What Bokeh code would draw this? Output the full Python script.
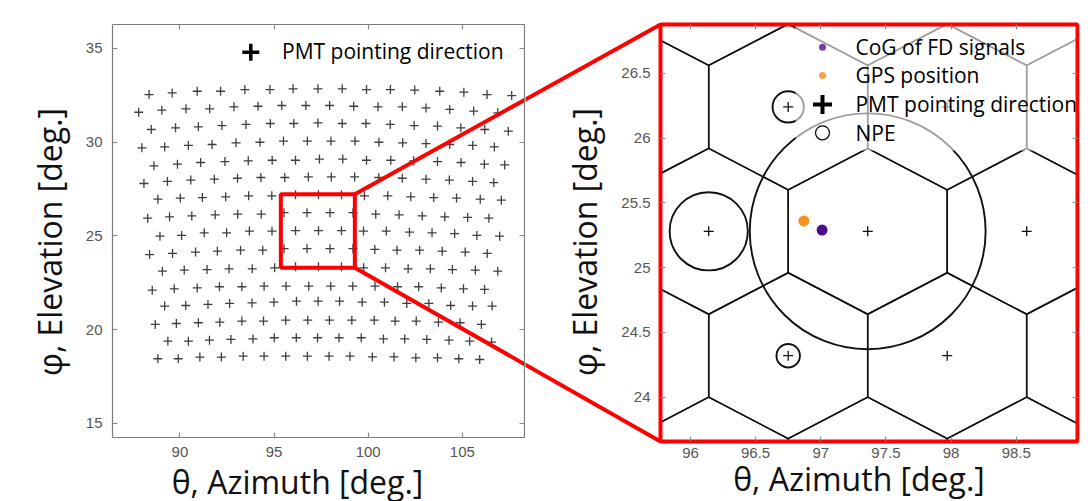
import numpy as np
from bokeh.plotting import figure
from bokeh.models import Range1d, LinearAxis, FixedTicker, NumeralTickFormatter
from bokeh.layouts import row
from bokeh.embed import file_html
from bokeh.resources import INLINE
from bokeh.core.properties import value

# ---------------------------------------------------------------------------
# PMT pointing directions [deg], one list per camera row (top row first)
# ---------------------------------------------------------------------------
pmt_azimuth = [
    [88.36, 89.59, 90.92, 92.16, 93.45, 94.78, 96.01, 97.33, 98.62, 99.91, 101.18, 102.47, 103.80, 105.08, 106.31, 107.62],
    [87.81, 89.04, 90.32, 91.58, 92.87, 94.15, 95.41, 96.69, 97.95, 99.23, 100.52, 101.81, 103.07, 104.33, 105.60, 106.88],
    [88.48, 89.77, 90.98, 92.23, 93.51, 94.80, 96.05, 97.33, 98.62, 99.88, 101.17, 102.44, 103.68, 104.92, 106.19, 107.44],
    [87.98, 89.19, 90.45, 91.71, 92.98, 94.25, 95.50, 96.77, 98.02, 99.30, 100.57, 101.83, 103.07, 104.33, 105.55, 106.70],
    [88.62, 89.87, 91.10, 92.39, 93.63, 94.90, 96.14, 97.41, 98.65, 99.91, 101.20, 102.41, 103.68, 104.93, 106.17, 107.25],
    [88.09, 89.34, 90.58, 91.83, 93.06, 94.30, 95.57, 96.82, 98.04, 99.28, 100.56, 101.81, 103.07, 104.31, 105.54, 106.67],
    [88.83, 90.02, 91.19, 92.43, 93.65, 94.88, 96.14, 97.36, 98.58, 99.80, 101.04, 102.26, 103.48, 104.69, 105.95, 107.07],
    [88.29, 89.45, 90.63, 91.87, 93.07, 94.32, 95.53, 96.75, 97.97, 99.19, 100.40, 101.64, 102.87, 104.07, 105.28, 106.41],
    [88.94, 90.09, 91.29, 92.48, 93.69, 94.89, 96.14, 97.36, 98.58, 99.75, 100.96, 102.19, 103.39, 104.59, 105.77, 106.98],
    [88.39, 89.61, 90.83, 91.99, 93.22, 94.40, 95.53, 96.75, 97.97, 99.19, 100.35, 101.53, 102.73, 103.93, 105.15, 106.32],
    [89.07, 90.23, 91.44, 92.61, 93.84, 95.03, 96.14, 97.36, 98.58, 99.76, 100.92, 102.12, 103.30, 104.47, 105.69, 106.88],
    [88.53, 89.70, 90.92, 92.10, 93.29, 94.47, 95.64, 96.84, 98.01, 99.18, 100.36, 101.56, 102.68, 103.88, 105.06, 106.18],
    [89.19, 90.31, 91.49, 92.64, 93.83, 94.99, 96.19, 97.34, 98.48, 99.68, 100.86, 102.05, 103.22, 104.38, 105.54, 106.58],
    [88.69, 89.81, 90.98, 92.12, 93.29, 94.44, 95.62, 96.79, 97.94, 99.13, 100.32, 101.43, 102.55, 103.73, 104.88, 106.01],
    [89.36, 90.45, 91.57, 92.71, 93.88, 95.01, 96.18, 97.31, 98.45, 99.63, 100.81, 101.94, 103.11, 104.29, 105.39, 106.55],
    [88.83, 89.91, 91.06, 92.20, 93.36, 94.47, 95.62, 96.77, 97.92, 99.03, 100.22, 101.37, 102.53, 103.68, 104.81, 105.92],
]
pmt_elevation = [
    [32.54, 32.63, 32.72, 32.72, 32.81, 32.81, 32.85, 32.85, 32.85, 32.81, 32.81, 32.78, 32.72, 32.67, 32.54, 32.49],
    [31.60, 31.71, 31.78, 31.78, 31.89, 31.92, 31.96, 31.96, 31.96, 31.92, 31.89, 31.89, 31.83, 31.75, 31.66, 31.57],
    [30.68, 30.77, 30.82, 30.89, 30.95, 31.00, 31.00, 31.03, 31.00, 31.00, 30.95, 30.89, 30.86, 30.77, 30.68, 30.59],
    [29.70, 29.75, 29.83, 29.88, 29.97, 30.00, 30.06, 30.06, 30.06, 30.06, 30.00, 29.97, 29.93, 29.88, 29.83, 29.75],
    [28.74, 28.83, 28.92, 28.97, 29.01, 29.04, 29.04, 29.10, 29.10, 29.04, 29.04, 29.01, 28.97, 28.92, 28.83, 28.79],
    [27.80, 27.91, 27.98, 28.03, 28.08, 28.12, 28.12, 28.15, 28.15, 28.15, 28.12, 28.08, 28.03, 27.98, 27.91, 27.85],
    [26.96, 27.02, 27.05, 27.09, 27.14, 27.14, 27.20, 27.20, 27.20, 27.14, 27.14, 27.09, 27.05, 27.02, 26.96, 26.91],
    [25.95, 26.02, 26.07, 26.13, 26.16, 26.16, 26.24, 26.24, 26.24, 26.24, 26.16, 26.13, 26.07, 26.02, 25.99, 25.95],
    [24.99, 25.03, 25.17, 25.17, 25.26, 25.26, 25.28, 25.28, 25.28, 25.26, 25.26, 25.20, 25.17, 25.13, 25.03, 24.99],
    [24.01, 24.07, 24.14, 24.19, 24.24, 24.24, 24.32, 24.32, 24.32, 24.32, 24.28, 24.24, 24.24, 24.19, 24.14, 24.07],
    [23.12, 23.18, 23.21, 23.25, 23.25, 23.30, 23.36, 23.36, 23.36, 23.30, 23.30, 23.25, 23.25, 23.21, 23.18, 23.12],
    [22.11, 22.18, 22.23, 22.29, 22.29, 22.32, 22.32, 22.32, 22.32, 22.32, 22.32, 22.29, 22.29, 22.23, 22.18, 22.15],
    [21.26, 21.29, 21.35, 21.40, 21.43, 21.47, 21.52, 21.52, 21.52, 21.47, 21.47, 21.40, 21.40, 21.29, 21.26, 21.26],
    [20.28, 20.33, 20.37, 20.40, 20.46, 20.46, 20.51, 20.51, 20.51, 20.51, 20.51, 20.46, 20.46, 20.40, 20.37, 20.28],
    [19.39, 19.39, 19.44, 19.48, 19.51, 19.57, 19.57, 19.57, 19.57, 19.57, 19.51, 19.51, 19.48, 19.44, 19.39, 19.34],
    [18.45, 18.45, 18.54, 18.54, 18.59, 18.59, 18.59, 18.59, 18.59, 18.59, 18.55, 18.55, 18.50, 18.50, 18.45, 18.41],
]

# axis limits and ticks
overview_az_lim = [86.42, 108.30]
overview_el_lim = [14.25, 36.28]
overview_az_ticks = [90, 95, 100, 105]
overview_el_ticks = [15, 20, 25, 30, 35]

detail_az_lim = [95.77, 98.97]
detail_el_lim = [23.658, 26.876]
detail_az_ticks = [96, 96.5, 97, 97.5, 98, 98.5]
detail_el_ticks = [24, 24.5, 25, 25.5, 26, 26.5]

# part of the camera that is magnified in the right panel
zoom_box_az = [95.36, 99.29]
zoom_box_el = [23.31, 27.23]

# number of photo-electrons per PMT, drawn as circle radius [deg]
npe_az = [96.14, 97.36, 96.75, 96.75]
npe_el = [25.28, 25.28, 26.24, 24.32]
npe_radius = [0.30, 0.905, 0.12, 0.09]

# centre of gravity of the FD signals and GPS position of the source
cog_az, cog_el = [97.01], [25.29]
gps_az, gps_el = [96.87], [25.36]

legend_labels = ["CoG of FD signals", "GPS position", "PMT pointing direction", "NPE"]
x_title = "θ, Azimuth [deg.]"
y_title = "φ, Elevation [deg.]"

# ---------------------------------------------------------------------------
# page geometry (pixels, y measured from the top of the page)
# ---------------------------------------------------------------------------
PAGE_W, PAGE_H = 1091, 501
LEFT_W = 525
OV_PX, OV_PY = (112, 524), (24, 437)      # overview axes box
DT_PX, DT_PY = (660, 1077), (24, 441)     # detail axes box
# axis titles sit a little off the box centres (pixels, +x right, +y down)
OV_XLABEL_SHIFT, OV_YLABEL_SHIFT = -21, 11
DT_XLABEL_SHIFT, DT_YLABEL_SHIFT = -10, 9

ov_sx = (OV_PX[1] - OV_PX[0]) / (overview_az_lim[1] - overview_az_lim[0])
ov_sy = (OV_PY[1] - OV_PY[0]) / (overview_el_lim[1] - overview_el_lim[0])
dt_sx = (DT_PX[1] - DT_PX[0]) / (detail_az_lim[1] - detail_az_lim[0])
dt_sy = (DT_PY[1] - DT_PY[0]) / (detail_el_lim[1] - detail_el_lim[0])


def overview_to_px(az, el):
    return OV_PX[0] + (az - overview_az_lim[0]) * ov_sx, OV_PY[0] + (overview_el_lim[1] - el) * ov_sy


def px_to_overview(px, py):
    return overview_az_lim[0] + (px - OV_PX[0]) / ov_sx, overview_el_lim[1] - (py - OV_PY[0]) / ov_sy


def detail_to_px(az, el):
    return DT_PX[0] + (az - detail_az_lim[0]) * dt_sx, DT_PY[0] + (detail_el_lim[1] - el) * dt_sy


def px_to_detail(px, py):
    return detail_az_lim[0] + (px - DT_PX[0]) / dt_sx, detail_el_lim[1] - (py - DT_PY[0]) / dt_sy


def overview_frac(fx, fy):
    return (overview_az_lim[0] + fx * (overview_az_lim[1] - overview_az_lim[0]),
            overview_el_lim[1] - fy * (overview_el_lim[1] - overview_el_lim[0]))


def detail_frac(fx, fy):
    return (detail_az_lim[0] + fx * (detail_az_lim[1] - detail_az_lim[0]),
            detail_el_lim[1] - fy * (detail_el_lim[1] - detail_el_lim[0]))


RED = "#ff0000"
TICK_GREY = "#8a8a8a"
LABEL_FONT = "Open Sans"


def style_axis(ax, show_labels=True, line=True, ticks=True):
    ax.major_tick_in = 5
    ax.major_tick_out = 0
    ax.minor_tick_line_color = None
    ax.major_tick_line_color = TICK_GREY if ticks else None
    ax.major_tick_line_width = 1.2
    ax.axis_line_color = "#7a7a7a" if line else None
    ax.axis_line_width = 1.2
    ax.major_label_text_font = "Liberation Sans"
    ax.major_label_text_font_size = "15px"
    ax.major_label_text_color = "#555555" if show_labels else None
    ax.axis_label_text_font = LABEL_FONT
    ax.axis_label_text_font_size = "32px"
    ax.axis_label_text_font_style = "normal"
    ax.axis_label_text_color = "#111111"


def add_box_axes(p, az_ticks, el_ticks, az_lim, el_lim, line):
    """Frame of an axes box with inward ticks on all four sides, no labels."""
    for loc, ticks, fixed, bounds in (("below", az_ticks, el_lim[0], az_lim),
                                      ("above", az_ticks, el_lim[1], az_lim),
                                      ("left", el_ticks, az_lim[0], el_lim),
                                      ("right", el_ticks, az_lim[1], el_lim)):
        ax = LinearAxis(ticker=FixedTicker(ticks=ticks), fixed_location=fixed, bounds=tuple(bounds))
        style_axis(ax, show_labels=False, line=line)
        p.add_layout(ax, loc)


def add_label_axes(p, az_ticks, el_ticks, az_lim, el_lim, dx, dy, x_standoff, fmt=None):
    """Tick labels and titles; bounds are offset so that the titles land where wanted."""
    kw = {} if fmt is None else {"formatter": fmt}
    ax = LinearAxis(ticker=FixedTicker(ticks=az_ticks), axis_label=x_title, fixed_location=el_lim[0],
                    bounds=(az_lim[0] + dx, az_lim[1] + dx), major_label_standoff=x_standoff[0],
                    axis_label_standoff=x_standoff[1], **kw)
    style_axis(ax, line=False, ticks=False)
    p.add_layout(ax, "below")
    ax = LinearAxis(ticker=FixedTicker(ticks=el_ticks), axis_label=y_title, fixed_location=az_lim[0],
                    bounds=(el_lim[0] + dy, el_lim[1] + dy), major_label_standoff=10,
                    axis_label_standoff=12, **kw)
    style_axis(ax, line=False, ticks=False)
    p.add_layout(ax, "left")


all_az = [a for r in pmt_azimuth for a in r]
all_el = [e for r in pmt_elevation for e in r]

# ---------------------------------------------------------------------------
# left: camera overview (the frame fills the whole canvas, axes are pinned)
# ---------------------------------------------------------------------------
p1 = figure(
    width=LEFT_W, height=PAGE_H,
    x_range=Range1d(overview_az_lim[0] - OV_PX[0] / ov_sx, overview_az_lim[1] + (LEFT_W - OV_PX[1]) / ov_sx),
    y_range=Range1d(overview_el_lim[0] - (PAGE_H - OV_PY[1]) / ov_sy, overview_el_lim[1] + OV_PY[0] / ov_sy),
    min_border_left=0, min_border_right=0, min_border_top=0, min_border_bottom=0,
    x_axis_location=None, y_axis_location=None,
    toolbar_location=None, output_backend="svg", outline_line_color=None,
)
p1.grid.visible = False

add_box_axes(p1, overview_az_ticks, overview_el_ticks, overview_az_lim, overview_el_lim, line=True)
add_label_axes(p1, overview_az_ticks, overview_el_ticks, overview_az_lim, overview_el_lim,
               OV_XLABEL_SHIFT / ov_sx, -OV_YLABEL_SHIFT / ov_sy, (9, 0))

p1.scatter(all_az, all_el, marker="cross", size=9, line_width=1.3, line_color="#3f3f3f")

# legend of the overview
lx, ly = overview_frac(0.3357, 0.067)
p1.scatter([lx], [ly], marker="cross", size=17, line_width=3.5, line_color="black")
tx, ty = overview_frac(0.4114, 0.063)
p1.text([tx], [ty], text=[legend_labels[2]], text_font=value(LABEL_FONT), text_font_size="21px",
        text_baseline="middle", text_align="left", text_color="black")

# magnified region and its connectors towards the detail panel
p1.quad(left=[zoom_box_az[0]], right=[zoom_box_az[1]], bottom=[zoom_box_el[0]], top=[zoom_box_el[1]],
        fill_color=None, line_color=RED, line_width=4)
src_corners = [(zoom_box_az[1], zoom_box_el[1]), (zoom_box_az[1], zoom_box_el[0])]
dst_corners = [(detail_az_lim[0], detail_el_lim[1]), (detail_az_lim[0], detail_el_lim[0])]
ends = [px_to_overview(*detail_to_px(*c)) for c in dst_corners]
p1.segment(x0=[c[0] for c in src_corners], y0=[c[1] for c in src_corners],
           x1=[e[0] for e in ends], y1=[e[1] for e in ends], line_color=RED, line_width=4)

# ---------------------------------------------------------------------------
# right: detail around the source
# ---------------------------------------------------------------------------
R_OFF = LEFT_W
R_W = PAGE_W - LEFT_W
R_BORDER_RIGHT = PAGE_W - DT_PX[1] - 2
p2 = figure(
    width=R_W, height=PAGE_H,
    x_range=Range1d(detail_az_lim[0] - (DT_PX[0] - R_OFF) / dt_sx, detail_az_lim[1] + 2 / dt_sx),
    y_range=Range1d(detail_el_lim[0] - (PAGE_H - DT_PY[1]) / dt_sy, detail_el_lim[1] + DT_PY[0] / dt_sy),
    min_border_left=0, min_border_right=R_BORDER_RIGHT, min_border_top=0, min_border_bottom=0,
    x_axis_location=None, y_axis_location=None,
    toolbar_location=None, output_backend="svg", outline_line_color=None,
)
p2.grid.visible = False

add_box_axes(p2, detail_az_ticks, detail_el_ticks, detail_az_lim, detail_el_lim, line=False)
add_label_axes(p2, detail_az_ticks, detail_el_ticks, detail_az_lim, detail_el_lim,
               DT_XLABEL_SHIFT / dt_sx, -DT_YLABEL_SHIFT / dt_sy, (6, -4),
               fmt=NumeralTickFormatter(format="0.[0]"))

# hexagonal PMT cells, clipped to the detail box
HEX_DX, HEX_TIP, HEX_SIDE = 0.61, 0.64, 0.32
hex_corners = [(0, HEX_TIP), (HEX_DX, HEX_SIDE), (HEX_DX, -HEX_SIDE),
               (0, -HEX_TIP), (-HEX_DX, -HEX_SIDE), (-HEX_DX, HEX_SIDE)]


def clip_to_box(x0, y0, x1, y1, xmin, xmax, ymin, ymax):
    dx, dy = x1 - x0, y1 - y0
    t0, t1 = 0.0, 1.0
    for p, q in ((-dx, x0 - xmin), (dx, xmax - x0), (-dy, y0 - ymin), (dy, ymax - y0)):
        if p == 0:
            if q < 0:
                return None
            continue
        t = q / p
        if p < 0:
            t0 = max(t0, t)
        else:
            t1 = min(t1, t)
    if t1 - t0 < 1e-9:
        return None
    return x0 + t0 * dx, y0 + t0 * dy, x0 + t1 * dx, y0 + t1 * dy


seg_x0, seg_y0, seg_x1, seg_y1 = [], [], [], []
for az, el in zip(all_az, all_el):
    for k in range(6):
        (ax0, ay0), (ax1, ay1) = hex_corners[k], hex_corners[(k + 1) % 6]
        s = clip_to_box(az + ax0, el + ay0, az + ax1, el + ay1, *detail_az_lim, *detail_el_lim)
        if s:
            seg_x0.append(s[0]); seg_y0.append(s[1]); seg_x1.append(s[2]); seg_y1.append(s[3])
p2.segment(x0=seg_x0, y0=seg_y0, x1=seg_x1, y1=seg_y1, line_color="#111111", line_width=1.5)

p2.circle(npe_az, npe_el, radius=npe_radius, fill_color=None, line_color="#111111", line_width=1.9)

in_box = [(a, e) for a, e in zip(all_az, all_el)
          if detail_az_lim[0] < a < detail_az_lim[1] and detail_el_lim[0] < e < detail_el_lim[1]]
p2.scatter([a for a, _ in in_box], [e for _, e in in_box], marker="cross", size=10,
           line_width=1.3, line_color="#111111")

p2.scatter(gps_az, gps_el, size=11, fill_color="#f7931e", line_color=None)
p2.scatter(cog_az, cog_el, size=11, fill_color="#4a0d86", line_color=None)

# legend (semi-transparent backdrop, markers and labels)
bx0, by0 = detail_frac(0.324, 0.302)
bx1, by1 = detail_frac(1.0, 0.0)
p2.quad(left=[bx0], right=[bx1], bottom=[by0], top=[by1], fill_color="white", fill_alpha=0.6,
        line_color=None)
rows_fy = [0.0544, 0.1223, 0.1918, 0.2597]
mk = [detail_frac(0.3885, fy) for fy in rows_fy]
p2.scatter([mk[0][0]], [mk[0][1]], size=7, fill_color="#7b3aa8", line_color=None)
p2.scatter([mk[1][0]], [mk[1][1]], size=7, fill_color="#f5a24b", line_color=None)
p2.scatter([mk[2][0]], [mk[2][1]], marker="cross", size=19, line_width=4, line_color="black")
p2.scatter([mk[3][0]], [mk[3][1]], marker="circle", size=14, fill_color=None, line_color="black",
           line_width=1.2)
txt = [detail_frac(0.4676, fy) for fy in rows_fy]
p2.text([t[0] for t in txt], [t[1] for t in txt], text=legend_labels, text_font=value(LABEL_FONT),
        text_font_size="21px", text_baseline="middle", text_align="left", text_color="black")

# frame of the detail panel and the connectors coming from the overview box
p2.quad(left=[detail_az_lim[0]], right=[detail_az_lim[1]], bottom=[detail_el_lim[0]],
        top=[detail_el_lim[1]], fill_color=None, line_color=RED, line_width=4)
starts = [px_to_detail(*overview_to_px(*c)) for c in src_corners]
p2.segment(x0=[s[0] for s in starts], y0=[s[1] for s in starts],
           x1=[c[0] for c in dst_corners], y1=[c[1] for c in dst_corners], line_color=RED, line_width=4)

layout = row(p1, p2)
open("out.html", "w").write(file_html(layout, INLINE))
